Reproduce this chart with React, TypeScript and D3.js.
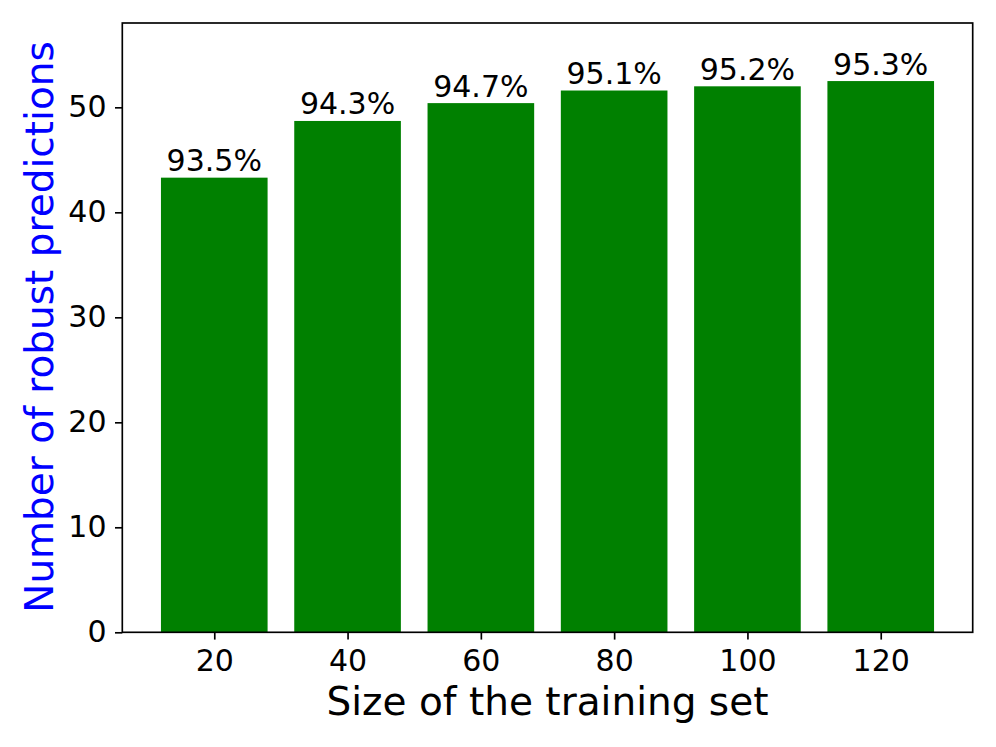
import React, { useEffect, useRef } from 'react';
import * as d3 from 'd3';

// training set sizes (categories)
const sizes = [20, 40, 60, 80, 100, 120];
// number of robust predictions per size
const robustCounts = [43.3, 48.7, 50.4, 51.6, 52.0, 52.5];
// percentage labels shown over the bars
const pctLabels = ['93.5%', '94.3%', '94.7%', '95.1%', '95.2%', '95.3%'];
const yTicks = [0, 10, 20, 30, 40, 50];

const W = 996;
const H = 747;
const margin = { top: 23, right: 23.3, bottom: 114.7, left: 122.3 };
const FONT = 'DejaVu Sans, sans-serif';
const TICK_FS = '30px';
const LABEL_FS = '39px';

export default function App() {
	const ref = useRef<SVGSVGElement | null>(null);

	useEffect(() => {
		const el = ref.current;
		if (!el) return;
		const root = d3.select(el);
		root.selectAll('*').remove();

		const width = W - margin.left - margin.right;
		const height = H - margin.top - margin.bottom;

		const g = root
			.append('g')
			.attr('transform', `translate(${margin.left},${margin.top})`);

		// Scales (bars sit at integer positions like matplotlib)
		const n = sizes.length;
		const barW = 0.8;
		const pad = (n - 1 + barW) * 0.05;
		const x = d3
			.scaleLinear()
			.domain([-barW / 2 - pad, n - 1 + barW / 2 + pad])
			.range([0, width]);
		const y = d3.scaleLinear().domain([0, 58.03]).range([height, 0]);

		// Bars
		g.selectAll('rect.bar')
			.data(robustCounts)
			.enter()
			.append('rect')
			.attr('class', 'bar')
			.attr('x', (_d, i) => x(i - barW / 2))
			.attr('width', x(barW) - x(0))
			.attr('y', (d) => y(d))
			.attr('height', (d) => height - y(d))
			.attr('fill', '#008000');

		// Bar labels
		g.selectAll('text.lbl')
			.data(robustCounts)
			.enter()
			.append('text')
			.attr('class', 'lbl')
			.attr('x', (_d, i) => x(i))
			.attr('y', (d) => y(d) - 6.5)
			.attr('text-anchor', 'middle')
			.style('font-family', FONT)
			.style('font-size', TICK_FS)
			.style('fill', '#000')
			.text((_d, i) => pctLabels[i]);

		// Axes
		const xAxis = g
			.append('g')
			.attr('transform', `translate(0,${height})`)
			.call(
				d3
					.axisBottom(x)
					.tickValues(d3.range(n))
					.tickFormat((d) => String(sizes[d as number]))
					.tickSize(7.3)
					.tickPadding(10.5)
			);
		const yAxis = g.append('g').call(
			d3
				.axisLeft(y)
				.tickValues(yTicks)
				.tickFormat(d3.format('d'))
				.tickSize(7.3)
				.tickPadding(8.5)
		);
		[xAxis, yAxis].forEach((ax) => {
			ax.select('.domain').remove();
			ax.selectAll('.tick line')
				.attr('stroke', '#000')
				.attr('stroke-width', 1.67);
			ax.selectAll('.tick text')
				.style('font-family', FONT)
				.style('font-size', TICK_FS)
				.attr('fill', '#000');
		});

		// Frame
		g.append('rect')
			.attr('width', width)
			.attr('height', height)
			.attr('fill', 'none')
			.attr('stroke', '#000')
			.attr('stroke-width', 1.67);

		// Axis titles
		root.append('text')
			.attr('x', margin.left + width / 2)
			.attr('y', 715)
			.attr('text-anchor', 'middle')
			.style('font-family', FONT)
			.style('font-size', LABEL_FS)
			.style('fill', '#000')
			.text('Size of the training set');

		root.append('text')
			.attr('transform', `translate(52.5,327) rotate(-90)`)
			.attr('text-anchor', 'middle')
			.style('font-family', FONT)
			.style('font-size', LABEL_FS)
			.style('fill', '#0000ff')
			.text('Number of robust predictions');
	}, []);

	return (
		<svg
			ref={ref}
			width={W}
			height={H}
			style={{ position: 'absolute', left: 0, top: 0, background: '#fff' }}
		/>
	);
}
